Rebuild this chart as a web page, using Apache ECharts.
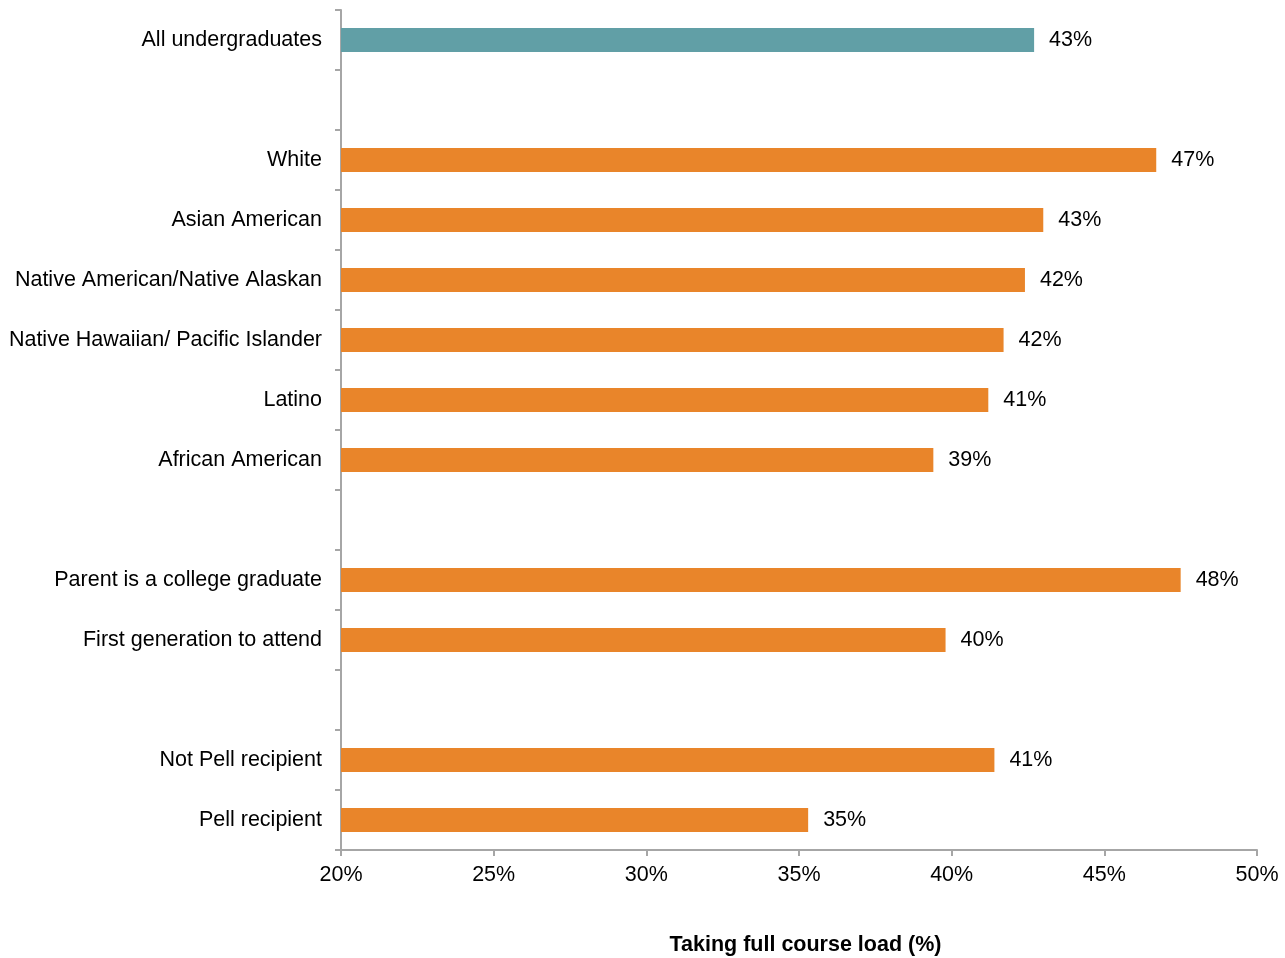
<!DOCTYPE html>
<html>
<head>
<meta charset="utf-8">
<script src="https://cdn.jsdelivr.net/npm/echarts@6/dist/echarts.min.js"></script>
<style>
  html, body { margin: 0; padding: 0; background: #fff; }
  #chart { width: 1285px; height: 958px; }
</style>
</head>
<body>
<div id="chart"></div>
<script>
// Groups listed top to bottom; empty names are spacer rows between groups.
const categories = [
  'All undergraduates',
  '',
  'White',
  'Asian American',
  'Native American/Native Alaskan',
  'Native Hawaiian/ Pacific Islander',
  'Latino',
  'African American',
  '',
  'Parent is a college graduate',
  'First generation to attend',
  '',
  'Not Pell recipient',
  'Pell recipient'
];

// Share taking a full course load, in percent (null = spacer row).
const fullLoadShare = [
  42.7, null, 46.7, 43.0, 42.4, 41.7, 41.2, 39.4, null, 47.5, 39.8, null, 41.4, 35.3
];

// Which rows show the overall total (drawn in a different colour).
const isTotalRow = [
  true, false, false, false, false, false, false, false, false, false, false, false, false, false
];

const xTicks = { min: 20, max: 50, step: 5 };

const TEAL = '#619FA6';
const ORANGE = '#E9852A';
const AXIS_GREY = '#A6A6A6';
const FONT = '"Liberation Sans", Arial, sans-serif';
const FS = 21.5;

const barData = fullLoadShare.map((v, i) => ({
  value: v,
  itemStyle: { color: isTotalRow[i] ? TEAL : ORANGE }
}));

const chart = echarts.init(document.getElementById('chart'), null, { renderer: 'canvas' });

chart.setOption({
  animation: false,
  backgroundColor: '#ffffff',
  textStyle: { fontFamily: FONT },
  grid: {
    left: 341, right: 28, top: 10, bottom: 108,
    containLabel: false,
    outerBoundsMode: 'none'
  },
  xAxis: {
    type: 'value',
    min: xTicks.min,
    max: xTicks.max,
    interval: xTicks.step,
    name: 'Taking full course load (%)',
    nameLocation: 'middle',
    nameGap: 84,
    nameTextStyle: {
      fontFamily: FONT, fontSize: FS, fontWeight: 'bold', color: '#000',
      padding: [0, 0, 0, 13]
    },
    axisLine: { show: true, lineStyle: { color: AXIS_GREY, width: 2 } },
    axisTick: { show: true, length: 6, lineStyle: { color: AXIS_GREY, width: 2 } },
    splitLine: { show: false },
    axisLabel: {
      fontFamily: FONT, fontSize: FS, color: '#000', margin: 14,
      formatter: v => v + '%'
    }
  },
  yAxis: {
    type: 'category',
    inverse: true,
    data: categories,
    axisLine: { show: true, lineStyle: { color: AXIS_GREY, width: 2 } },
    axisTick: { show: true, length: 6, interval: 0, lineStyle: { color: AXIS_GREY, width: 2 } },
    axisLabel: { fontFamily: FONT, fontSize: FS, color: '#000', margin: 19, interval: 0 }
  },
  series: [{
    type: 'bar',
    data: barData,
    barWidth: 24,
    label: {
      show: true,
      position: 'right',
      distance: 15,
      fontFamily: FONT,
      fontSize: FS,
      color: '#000',
      padding: [3, 0, 0, 0],
      formatter: p => (p.value == null ? '' : Math.round(p.value) + '%')
    }
  }]
});
</script>
</body>
</html>
